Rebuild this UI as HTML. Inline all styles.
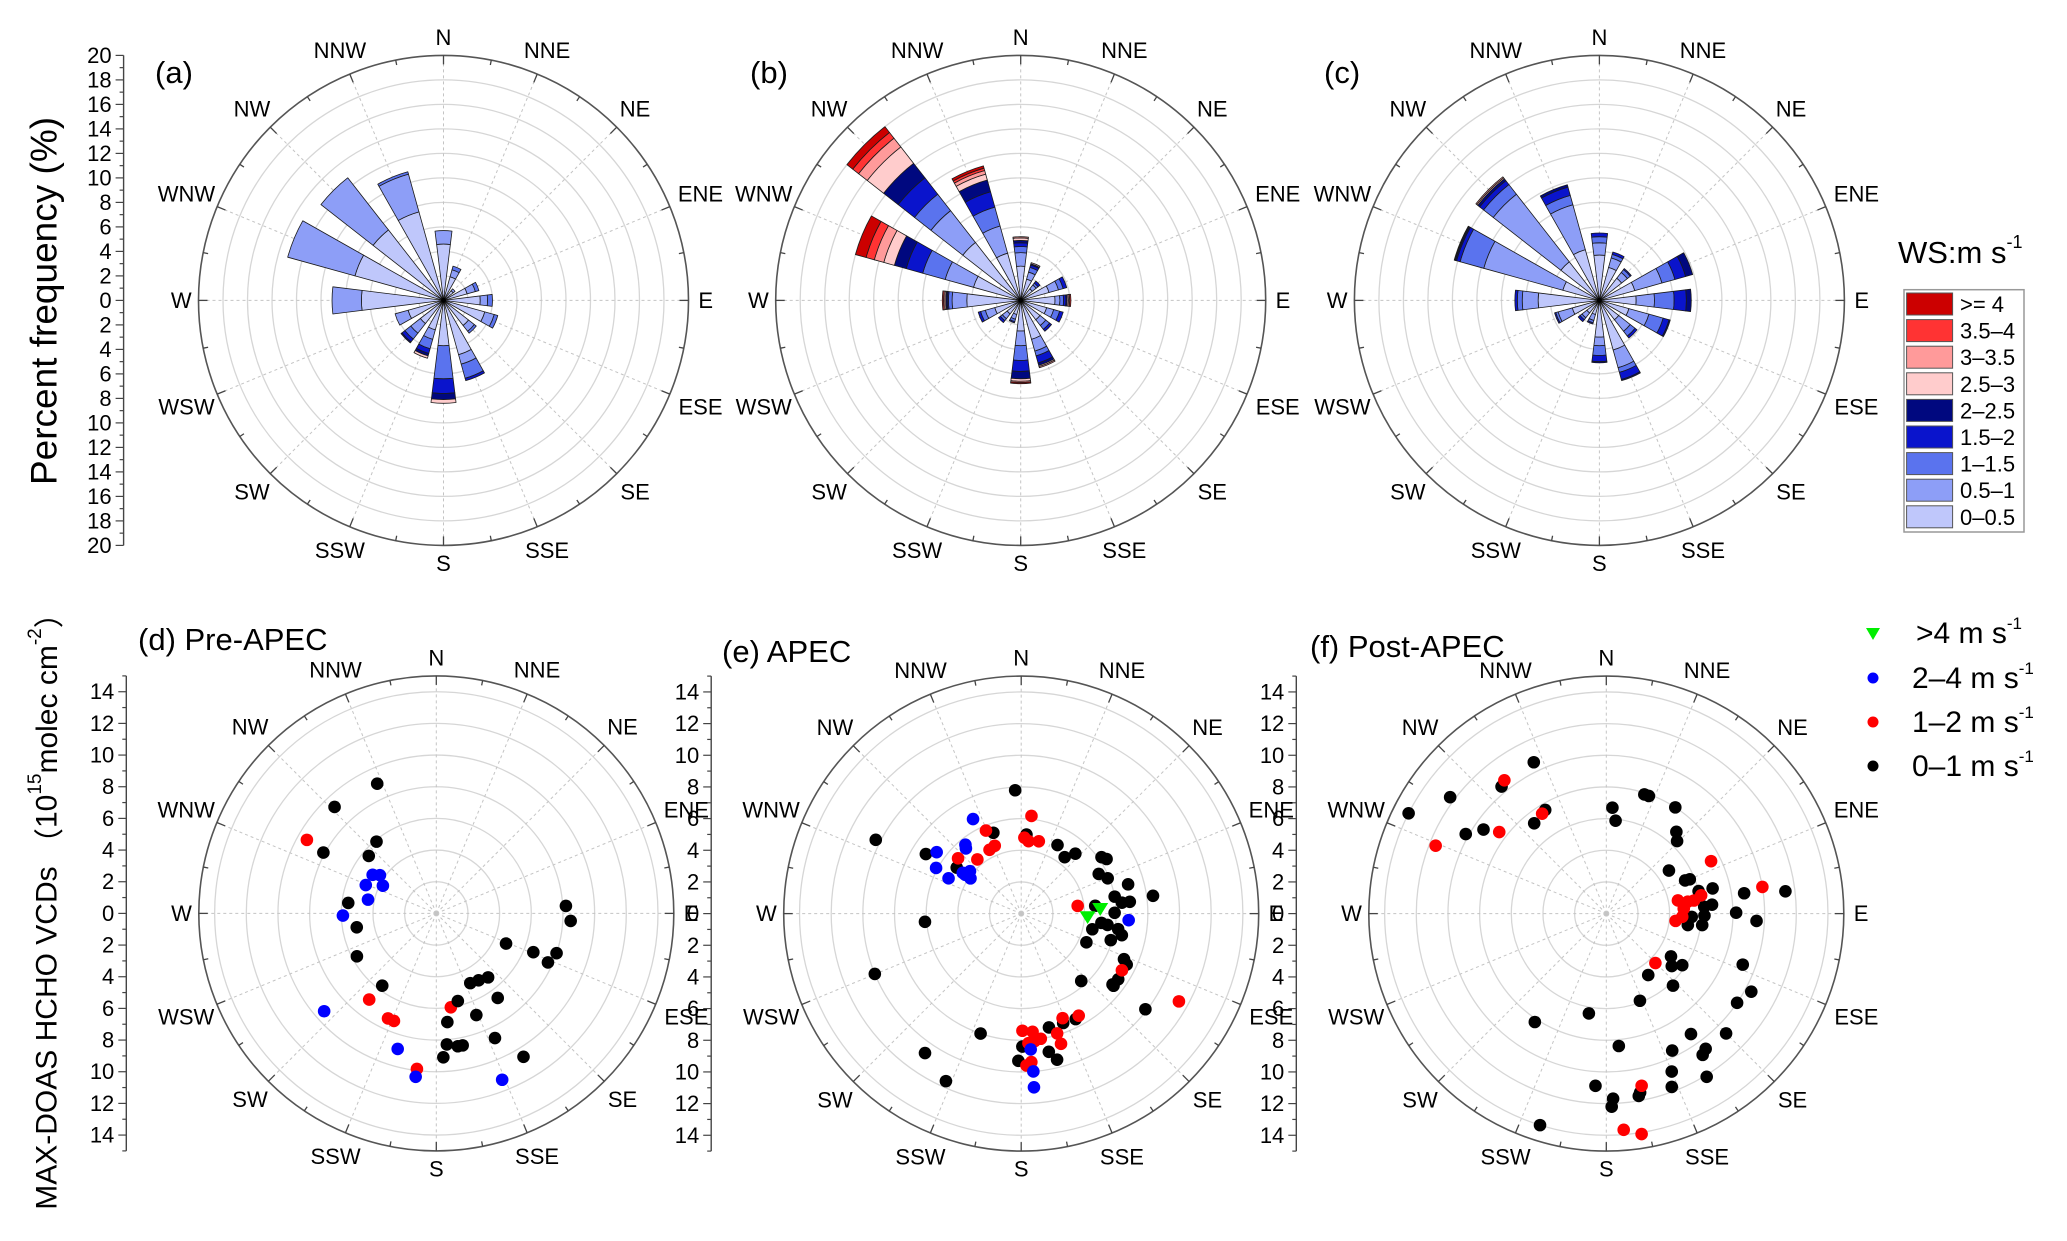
<!DOCTYPE html>
<html><head><meta charset="utf-8"><style>
html,body{margin:0;padding:0;background:#fff;}
svg{display:block;font-family:"Liberation Sans",Arial,sans-serif;}
</style></head><body>
<svg id="fig" width="2067" height="1241" viewBox="0 0 2067 1241" xmlns="http://www.w3.org/2000/svg">
<rect x="0" y="0" width="2067" height="1241" fill="#fff"/>
<text x="44" y="301" font-size="37" text-anchor="middle" dominant-baseline="central" transform="rotate(-90 44 301)">Percent frequency (%)</text>
<text x="47" y="904" font-size="30" text-anchor="middle" dominant-baseline="central" transform="rotate(-90 47 904)">MAX-DOAS HCHO VCDs <tspan font-family="'Noto Sans CJK SC',sans-serif">（</tspan>10<tspan font-size="19" dy="-12">15</tspan><tspan dy="12">molec cm</tspan><tspan font-size="19" dy="-12">-2</tspan><tspan dy="12" font-family="'Noto Sans CJK SC',sans-serif">）</tspan></text>
<text x="155" y="83" font-size="31">(a)</text>
<text x="750" y="83" font-size="31">(b)</text>
<text x="1324" y="83" font-size="31">(c)</text>
<text x="138" y="650" font-size="31">(d) Pre-APEC</text>
<text x="722" y="662" font-size="31">(e) APEC</text>
<text x="1310" y="657" font-size="31">(f) Post-APEC</text>
<text x="1898" y="263" font-size="31">WS:m s<tspan font-size="18" dy="-15">-1</tspan></text>
<g id="layer"></g>
</svg>
<script>
// ---- data ----
const directions = ['N','NNE','NE','ENE','E','ESE','SE','SSE','S','SSW','SW','WSW','W','WNW','NW','NNW'];
const speedBins = ['0–0.5','0.5–1','1–1.5','1.5–2','2–2.5','2.5–3','3–3.5','3.5–4','>= 4'];
const binColors = ['#bfc7fb','#8d9ef7','#5a73ee','#0a14cc','#00087f','#ffcccc','#ff9a9a','#ff3333','#cc0000'];
const freqTicks = [20,18,16,14,12,10,8,6,4,2,0,2,4,6,8,10,12,14,16,18,20];
const roseA = [[4.6,1.1],[2.0,0.6,0.3],[1.0,0.2],[2.0,0.7,0.3],[3.0,0.6,0.4],[3.5,0.8,0.3],[2.6,0.6,0.2],[4.6,0.8,1.2,0.2],
  [3.7,0,2.7,1.2,0.5,0.3],[2.5,0.8,0.8,0.4,0.2,0.2],[2.4,1.0,0.6,0.3,0.1],[3.0,1.1],[6.7,2.4],[7.5,5.7],[7.3,5.4],[7.5,3.2,0.2]];
const roseB = [[2.8,1.1,0.5,0.3,0.2,0.2,0.1],[1.8,0.6,0.4,0.2,0.1,0.1],[1.2,0.4,0.2,0.2],[2.4,0.8,0.4,0.3],[2.8,0.4,0.3,0.2,0.1,0.1,0.1,0.1],
  [2.2,0.6,0.5,0.3],[2.0,0.6,0.4,0.2],[3.3,1.0,0.4,0.6,0.2,0.1,0.1],[2.5,1.2,1.2,0.9,0.6,0.2,0.1,0,0.1],[1.2,0.4,0.2,0.1],
  [1.4,0.5,0.2,0.2],[2.2,0.8,0.4,0.2],[4.4,1.2,0.3,0.1,0.1,0.1,0.1,0.1],[4.0,2.4,1.9,1.4,1.0,0.9,0.8,0.7,0.9],
  [6.0,3.3,1.7,1.7,1.5,1.7,0.9,0.6,0.6],[4.0,2.3,1.6,1.3,1.0,0.5,0.3,0.2,0.2]];
const roseC = [[3.7,1.0,0.5,0.3],[2.8,0.8,0.3,0.2],[2.3,0.6,0.3,0.1],[3.0,2.3,1.1,0.9,0.6],[3.0,1.5,1.6,1.0,0.4],[2.5,1.7,1.2,0.5,0.1],
  [2.0,1.2,0.5,0.2],[4.2,1.5,0.4,0.6,0.1],[3.0,0.7,0.8,0.5,0.1],[1.2,0.5,0.2,0.1],[1.3,0.5,0.2,0.2],[2.3,1.2,0.2,0.1],
  [5.0,1.3,0.4,0.2],[3.1,6.7,2.0,0.3,0.1,0.05,0.05],[4.0,7.0,1.0,0.4,0.2,0.1,0.1],[4.3,3.8,0.8,0.7,0.2]];
const vcdTicks = [14,12,10,8,6,4,2,0,2,4,6,8,10,12,14];
const wsClasses = ['0–1','1–2','2–4','>4'];
const wsColors = ['#000000','#ff0000','#0000ff','#00ee00'];
// Pre-APEC: wind direction (deg), VCD, ws class
const preDir = [335.5,316.3,299.6,298.3,320.2,310.4,301.2,304.1,291.9,297.4,281.4,276.8,268.7,260.1,241.6,216.8,217.9,228.9,204.7,201.5,195.9,187.1,187.2,177.2,175.4,170.8,168.7,174.2,171.2,166.2,158.5,154,147.7,141,144,154.8,148.7,158.4,113.4,111.8,108.3,113.7,86.7,93.2];
const preVcd = [9.0,9.3,9.4,8.1,5.9,5.6,4.7,4.3,4.8,3.8,4.4,5.6,5.9,5.1,5.7,5.7,6.9,9.4,7.3,7.3,8.9,9.9,10.4,9.1,8.3,8.5,8.5,6.9,6.0,5.7,6.9,4.9,5.0,5.2,6.6,8.7,10.6,11.3,4.8,6.6,8.0,7.7,8.2,8.5];
const preWs = [0,0,1,0,0,0,2,2,2,2,2,0,2,0,0,0,1,2,1,1,2,1,2,0,0,0,0,0,1,0,0,0,0,0,0,0,0,2,0,0,0,0,0,0];
// APEC
const apecDir = [357.2,296.9,302,341,305.5,3.8,27.9,37.6,42.1,54.9,57.4,62.9,67.8,74.7,82.3,79.7,83.8,83.8,84,89.5,96.6,97.5,102.4,99.1,102.1,106.5,113.8,113.9,115.8,124.1,127.8,128,138.3,127.6,265.1,247.6,198.7,214.6,204.2,166.3,159,152.7,168.7,166.2,179.5,181.1,
  6,2.4,5.8,13.7,337,338.7,333.6,321,311.2,82.2,119.4,119.1,150.6,158.4,179.4,174.5,171.1,163.3,163,176.8,174,178,176.1,
  333,321,319.7,306,298.2,295.9,304.9,309.6,304.8,304.7,93.5,176,175.6,175.8,
  92.8,86.4];
const apecVcd = [7.8,10.3,7.1,5.4,5.0,5.0,4.9,4.5,5.1,6.2,6.4,5.5,5.9,7.0,8.4,6.0,6.4,6.9,4.7,5.9,5.1,5.5,4.6,6.2,6.5,5.9,4.5,7.1,7.4,7.4,7.3,7.4,5.7,9.9,6.1,10.0,8.0,10.7,11.6,7.4,7.4,7.5,8.9,9.5,8.4,9.3,
  6.2,4.8,4.6,4.7,5.7,4.6,4.5,4.4,5.3,3.6,7.3,11.4,7.4,7.1,7.4,7.5,8.0,7.9,8.6,8.2,8.1,9.6,9.4,
  6.7,5.6,5.4,6.6,6.1,5.1,4.5,4.2,3.9,4.3,6.8,8.6,10.0,11.0,
  4.2,5.0];
const apecWs = [0,0,0,0,0,0,0,0,0,0,0,0,0,0,0,0,0,0,0,0,0,0,0,0,0,0,0,0,0,0,0,0,0,0,0,0,0,0,0,0,0,0,0,0,0,0,
  1,1,1,1,1,1,1,1,1,1,1,1,1,1,1,1,1,1,1,1,1,1,1,
  2,2,2,2,2,2,2,2,2,2,2,2,2,2,
  3,3];
// Post-APEC
const postDir = [334.4,320.5,306.7,296.9,299.5,304.4,329.5,321.4,3.3,5.7,17.7,19.9,33,40.6,44.3,55.5,67.2,67.7,76.7,81.6,82.9,76.3,85.2,86,89.6,92.8,91.2,92.2,96.8,98,123.5,128.7,124.2,145.7,137.2,158.9,110.5,118.3,124.3,135,144.9,143.7,145.7,148.4,154.3,157.5,159.3,169.9,169.3,189.9,213.4,174.6,183.6,177.9,178.4,197.4,
  322.6,327.3,307.3,291.7,63.4,80.3,79.6,81.7,79.1,81.5,86.4,96,92.4,135.2,168.4,175.4,170.9];
const postVcd = [10.6,10.4,12.3,14.0,10.2,9.4,7.6,7.3,6.7,5.9,7.9,7.9,8.0,6.8,6.4,4.8,5.4,5.7,6.9,8.8,11.4,6.0,6.7,6.2,8.2,9.5,6.2,5.4,6.1,5.2,4.9,5.3,5.8,4.7,6.2,5.9,9.2,10.4,10.0,10.7,9.3,10.6,10.8,12.1,9.6,10.8,11.7,11.7,11.5,6.4,8.2,8.4,10.9,11.7,12.2,14.0,
  10.6,7.5,8.5,11.6,7.4,10.0,4.6,5.2,6.1,5.6,4.9,4.4,4.8,4.4,11.1,13.7,14.1];
const postWs = [0,0,0,0,0,0,0,0,0,0,0,0,0,0,0,0,0,0,0,0,0,0,0,0,0,0,0,0,0,0,0,0,0,0,0,0,0,0,0,0,0,0,0,0,0,0,0,0,0,0,0,0,0,0,0,0,
  1,1,1,1,1,1,1,1,1,1,1,1,1,1,1,1,1];

// ---- drawing ----
const NS='http://www.w3.org/2000/svg';
const layer=document.getElementById('layer');
function mk(tag,attrs,parent){const e=document.createElementNS(NS,tag);for(const k in attrs)e.setAttribute(k,attrs[k]);(parent||layer).appendChild(e);return e;}
function pol(cx,cy,r,a){const t=a*Math.PI/180;return [cx+r*Math.sin(t),cy-r*Math.cos(t)];}
function txtW(s,fs){return s.length*0.66*fs;}

function frame(cx,cy,R,ringStep,nRings,name){
  const g=mk('g',{});
  
  
  for(let i=1;i<nRings;i++){
    const c=mk('circle',{cx:cx,cy:cy,r:i*ringStep,fill:'none',stroke:'#d6d6d6','stroke-width':1.3},g);
    
    
  }
  for(let i=0;i<16;i++){
    const p=pol(cx,cy,R,i*22.5);
    const l=mk('line',{x1:cx,y1:cy,x2:p[0],y2:p[1],stroke:'#c4c4c4','stroke-width':1,'stroke-dasharray':'3,3'},g);
    
    
  }
  const oc=mk('circle',{cx:cx,cy:cy,r:R,fill:'none',stroke:'#555','stroke-width':1.6},g);
  
  
  for(let i=0;i<32;i++){
    const len=(i%2===0)?9:5;
    const p1=pol(cx,cy,R,i*11.25),p2=pol(cx,cy,R-len,i*11.25);
    const t=mk('line',{x1:p1[0],y1:p1[1],x2:p2[0],y2:p2[1],stroke:'#444','stroke-width':1.3},g);
    
    
  }
  for(let i=0;i<16;i++){
    const a=i*22.5,s=Math.abs(Math.sin(a*Math.PI/180)),c=Math.abs(Math.cos(a*Math.PI/180));
    const hw=txtW(directions[i],22)/2;
    const d=R+10+s*hw+c*8;
    const p=pol(cx,cy,d,a);
    const t=mk('text',{x:p[0],y:p[1],'font-size':22,'text-anchor':'middle','dominant-baseline':'central'},g);
    t.textContent=directions[i];
    
    
  }
}

function radialAxis(x,cy,R,maxV,ticks,name){
  const g=mk('g',{});
  
  
  const ax=mk('line',{x1:x,y1:cy-R,x2:x,y2:cy+R,stroke:'#444','stroke-width':1.4},g);
  
  
  const k=R/maxV;
  for(let v=-maxV;v<=maxV;v++){
    const y=cy+v*k;
    const major=(v%2===0);
    const t=mk('line',{x1:x,y1:y,x2:x-(major?8:4),y2:y,stroke:'#444','stroke-width':1.2},g);
    
    
  }
  const n=ticks.length,half=(n-1)/2;
  for(let i=0;i<n;i++){
    const y=cy+(i-half)*2*k;
    const t=mk('text',{x:x-12,y:y,'font-size':22,'text-anchor':'end','dominant-baseline':'central'},g);
    t.textContent=ticks[i];
    
    
  }
}

function rose(cx,cy,R,data,name){
  frame(cx,cy,R,R/10,10,name);
  const k=R/20,h=7;
  const g=mk('g',{});
  
  
  data.forEach((bins,di)=>{
    const a=di*22.5;let cum=0;
    bins.forEach((f,bi)=>{
      if(f<=0)return;
      const r0=cum*k,r1=(cum+f)*k;cum+=f;
      const p1=pol(cx,cy,r0,a-h),p2=pol(cx,cy,r1,a-h),p3=pol(cx,cy,r1,a+h),p4=pol(cx,cy,r0,a+h);
      const d='M'+p1+' L'+p2+' A'+r1+' '+r1+' 0 0 1 '+p3+' L'+p4+(r0>0?' A'+r0+' '+r0+' 0 0 0 '+p1:'')+' Z';
      const p=mk('path',{d:d,fill:binColors[bi],stroke:'#1a1a1a','stroke-width':0.8,'stroke-linejoin':'round'},g);
      
      
    });
  });
  const c=mk('circle',{cx:cx,cy:cy,r:2.5,fill:'#000'},g);
  
  
}

function scatter(cx,cy,R,dirs,vals,ws,name){
  frame(cx,cy,R,R/7.5,8,name);
  radialAxis(cx-310,cy,R,15,vcdTicks,name+'-radial-axis');
  const k=R/15;
  const g=mk('g',{});
  
  
  dirs.forEach((a,i)=>{
    const p=pol(cx,cy,vals[i]*k,a);
    if(ws[i]===3){
      const s=8;
      const m=mk('path',{d:'M'+(p[0]-s)+','+(p[1]-s*0.7)+' L'+(p[0]+s)+','+(p[1]-s*0.7)+' L'+p[0]+','+(p[1]+s*0.9)+' Z',fill:wsColors[3]},g);
      
      
    } else {
      const m=mk('circle',{cx:p[0],cy:p[1],r:6.3,fill:wsColors[ws[i]]},g);
      
      
    }
  });
}

radialAxis(123.6,300.4,245,20,freqTicks,'frequency-axis');
rose(443.5,300.4,245,roseA,'rose-a');
rose(1020.7,300.4,245,roseB,'rose-b');
rose(1599.4,300.4,245,roseC,'rose-c');
scatter(436.3,913.4,237.5,preDir,preVcd,preWs,'scatter-d');
scatter(1021.2,913.6,237.5,apecDir,apecVcd,apecWs,'scatter-e');
scatter(1606.3,913.6,237.5,postDir,postVcd,postWs,'scatter-f');

// wind speed legend (roses)
const lg=mk('g',{});


const lb=mk('rect',{x:1904,y:289.7,width:120,height:242.3,fill:'#fff',stroke:'#999','stroke-width':1.5},lg);


for(let i=0;i<9;i++){
  const bi=8-i,y=293+i*26.6;
  const r=mk('rect',{x:1906.6,y:y,width:46,height:22,fill:binColors[bi],stroke:'#555','stroke-width':1},lg);
  
  
  const t=mk('text',{x:1960,y:y+19,'font-size':22},lg);
  t.textContent=speedBins[bi];
  
  
}
// scatter legend
const sg=mk('g',{});


const order=[3,2,1,0],bases=[643,688,732,776];
order.forEach((c,i)=>{
  const y=bases[i]-10;
  if(c===3){
    const m=mk('path',{d:'M1866,'+(y-5)+' L1880,'+(y-5)+' L1873,'+(y+7)+' Z',fill:wsColors[3]},sg);
    
    
  } else {
    const m=mk('circle',{cx:1873,cy:y,r:5.5,fill:wsColors[c]},sg);
    
    
  }
  const t=mk('text',{x:c===3?1916:1912,y:bases[i],'font-size':30},sg);
  
  
  const t1=mk('tspan',{},t);
  t1.textContent=wsClasses[c]+' m s';
  const t2=mk('tspan',{'font-size':17,dy:-14},t);
  t2.textContent='-1';
});
</script>
</body></html>
